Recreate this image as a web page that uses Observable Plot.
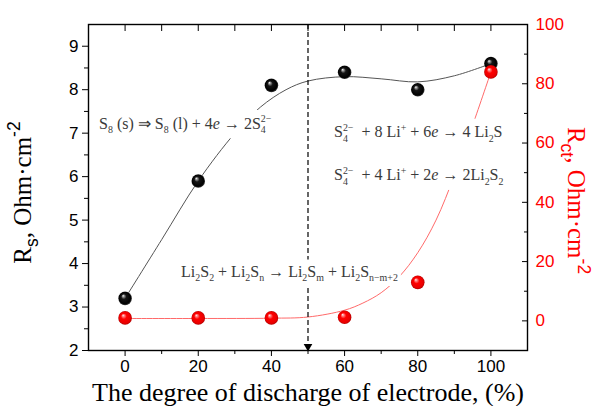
<!DOCTYPE html>
<html><head><meta charset="utf-8">
<script src="https://cdn.jsdelivr.net/npm/d3@7"></script>
<script src="https://cdn.jsdelivr.net/npm/@observablehq/plot@0.6"></script>
<style>body{margin:0;background:#fff} svg{display:block}</style>
</head><body><div id="chart"></div>
<script>
// ---- data ----
const degree = [0, 20, 40, 60, 80, 100];
const rsValues = [3.2, 5.9, 8.1, 8.4, 8.0, 8.6];
const rctValues = [1.0, 1.0, 1.0, 1.2, 13, 84];
// fitted curves
const rsFitX = [0, 10, 20, 30, 37, 44, 50, 60, 70, 80, 90, 100];
const rsFitY = [3.2, 4.55, 5.9, 7.0, 7.6, 8.0, 8.2, 8.3, 8.25, 8.18, 8.32, 8.6];
const rctFitX = [0, 20, 40, 50, 60, 65, 70, 75, 80, 85, 90, 95, 100];
const rctFitY = [0.8, 0.8, 0.9, 1.3, 3.6, 6, 9.5, 15, 23, 34, 49, 66, 84];
// axes
const xDomain = [-10, 110];
const rsDomain = [2, 9.5];
const rctDomain = [-10, 100];
const xTicks = [0, 20, 40, 60, 80, 100];
const xMinorTicks = [10, 30, 50, 70, 90];
const rsTicks = [2, 3, 4, 5, 6, 7, 8, 9];
const rsMinorTicks = [2.5, 3.5, 4.5, 5.5, 6.5, 7.5, 8.5];
const rctTicks = [0, 20, 40, 60, 80, 100];
const rctMinorTicks = [10, 30, 50, 70, 90];
// annotations (markup: _{sub} ^{sup} ~{italic})
const annoText = [
  "S_{8} (s) ⇒ S_{8} (l) + 4~{e} → 2S_{4}^{2−}",
  "S_{4}^{2−}  + 8 Li^{+} + 6~{e} → 4 Li_{2}S",
  "S_{4}^{2−}  + 4 Li^{+} + 2~{e} → 2Li_{2}S_{2}",
  "Li_{2}S_{2} + Li_{2}S_{n} → Li_{2}S_{m} + Li_{2}S_{n−m+2}"
];
const annoX = [-7.1, 57.1, 57.1, 15.3];
const annoY = [7.22, 7.02, 6.03, 3.82];
const annoGroup = [0, 1, 1, 2];
const markerX = [50];
const xLabel = "The degree of discharge of electrode, (%)";
const rsLabel = "R_{s}, Ohm·cm^{-2}";
const rctLabel = "R_{ct}, Ohm·cm^{-2}";

const toRs = v => rsDomain[0] + (v - rctDomain[0]) / (rctDomain[1] - rctDomain[0]) * (rsDomain[1] - rsDomain[0]);
const fromRs = y => rctDomain[0] + (y - rsDomain[0]) / (rsDomain[1] - rsDomain[0]) * (rctDomain[1] - rctDomain[0]);

const SERIF = "Liberation Serif, Times New Roman, serif";
const SANS = "Liberation Sans, Arial, sans-serif";
const RED = "#ff0000";

const svg = Plot.plot({
  width: 593, height: 406,
  marginLeft: 88, marginRight: 66, marginTop: 24, marginBottom: 56,
  style: {fontFamily: SANS, fontSize: "17px", color: "#000", background: "#fff", overflow: "visible"},
  x: {domain: xDomain},
  y: {domain: rsDomain},
  marks: [
    // axes
    Plot.axisX({ticks: xTicks, tickSize: 6, tickPadding: 3, label: null, tickFormat: d3.format("d")}),
    Plot.axisX({ticks: xMinorTicks, tickSize: 4, label: null, tickFormat: () => ""}),
    Plot.axisX({anchor: "top", ticks: xTicks.concat(xMinorTicks), tickSize: -6, label: null, tickFormat: () => ""}),
    Plot.axisY({ticks: rsTicks, tickSize: 6, tickPadding: 4, label: null, tickFormat: d3.format("d")}),
    Plot.axisY({ticks: rsMinorTicks, tickSize: 4, label: null, tickFormat: () => ""}),
    Plot.axisY({anchor: "right", ticks: rctTicks.map(toRs), tickSize: -6, label: null, tickFormat: () => ""}),
    Plot.axisY({anchor: "right", ticks: rctMinorTicks.map(toRs), tickSize: -4, label: null, tickFormat: () => ""}),
    Plot.axisY({anchor: "right", ticks: rctTicks.map(toRs), tickSize: 0, tickPadding: 8, label: null, color: RED,
                tickFormat: v => d3.format("d")(Math.round(fromRs(v)))}),
    // fitted curves
    Plot.line(rsFitX, {x: rsFitX, y: rsFitY, curve: "catmull-rom", stroke: "#555", strokeWidth: 1}),
    Plot.line(rctFitX, {x: rctFitX, y: rctFitY.map(toRs), curve: "catmull-rom", stroke: "#ff6a6a", strokeWidth: 1}),
    // dashed marker
    Plot.ruleX(markerX, {x: d => d, y1: rsDomain[1], y2: rsDomain[0], stroke: "#000", strokeWidth: 1.2, strokeDasharray: "5,3"}),
    Plot.dot(markerX, {x: d => d, y: rsDomain[0], symbol: "triangle", rotate: 180, r: 3.2, fill: "#000", dy: -4}),
    // annotations
    Plot.text(annoText, {x: annoX, y: annoY, text: d => d, textAnchor: "start", lineAnchor: "middle", fontFamily: SERIF, fontSize: 16,
                         fill: "#3a3a3a", className: "rich-anno", ariaLabel: "anno"}),
    // data points
    Plot.dot(degree, {x: degree, y: rsValues, r: 6.8, fill: "#000", className: "ball-black", ariaLabel: "ballblack"}),
    Plot.dot(degree, {x: degree, y: rctValues.map(toRs), r: 6.8, fill: RED, className: "ball-red", ariaLabel: "ballred"}),
    // labels
    Plot.text([xLabel], {frameAnchor: "bottom", lineAnchor: "middle", textAnchor: "middle", dy: 42.5, text: d => d,
                         fontFamily: SERIF, fontSize: 26, fill: "#000"}),
    Plot.text([rsLabel], {frameAnchor: "left", textAnchor: "middle", lineAnchor: "middle", dx: -66, dy: 5, rotate: -90,
                          text: d => d, fontFamily: SERIF, fontSize: 25, fill: "#000", className: "rich-label", ariaLabel: "richlabel"}),
    Plot.text([rctLabel], {frameAnchor: "right", textAnchor: "middle", lineAnchor: "middle", dx: 48, dy: 13, rotate: 90,
                           text: d => d, fontFamily: SERIF, fontSize: 25, fill: RED, className: "rich-label", ariaLabel: "richlabel"}),
    Plot.frame({stroke: "#000", strokeWidth: 1.4})
  ]
});
document.getElementById("chart").append(svg);

const NS = "http://www.w3.org/2000/svg";
function pick(cls, aria) {
  let els = svg.querySelectorAll("g." + cls);
  if (!els.length) els = svg.querySelectorAll(`g[aria-label="${aria}"]`);
  return Array.from(els);
}
function richify(el, subFont, subScale) {
  const src = el.textContent;
  const fs = parseFloat(getComputedStyle(el).fontSize);
  while (el.firstChild) el.removeChild(el.firstChild);
  let shift = 0, lastSub = null, m;
  const re = /([_^~])\{([^}]*)\}|([^_^~]+)/g;
  while ((m = re.exec(src))) {
    const kind = m[3] !== undefined ? "n" : m[1];
    const str = m[3] !== undefined ? m[3] : m[2];
    const ts = document.createElementNS(NS, "tspan");
    ts.textContent = str;
    let target = 0;
    if (kind === "_" || kind === "^") {
      target = kind === "_" ? 0.28 * fs : -0.42 * fs;
      ts.setAttribute("font-size", (subScale * fs).toFixed(2));
      if (subFont) ts.setAttribute("font-family", subFont);
    }
    if (kind === "~") ts.setAttribute("font-style", "italic");
    const delta = target - shift;
    if (Math.abs(delta) > 1e-6) ts.setAttribute("dy", delta.toFixed(2));
    if (kind === "^" && lastSub) ts.setAttribute("dx", (-lastSub.getComputedTextLength()).toFixed(2));
    el.appendChild(ts);
    lastSub = kind === "_" ? ts : null;
    shift = target;
  }
}
const annoGs = pick("rich-anno", "anno");
annoGs.forEach(g => g.querySelectorAll("text").forEach(t => richify(t, null, 0.62)));
pick("rich-label", "richlabel").forEach(g => g.querySelectorAll("text").forEach(t => richify(t, SANS, 0.7)));

// white boxes behind annotations
if (annoGs.length) {
  const annoG = annoGs[0];
  const sr = svg.getBoundingClientRect();
  const boxes = new Map();
  annoG.querySelectorAll("text").forEach((t, i) => {
    const r = t.getBoundingClientRect();
    const k = annoGroup[i];
    const b = boxes.get(k);
    const nb = {x0: r.left - sr.left, y0: r.top - sr.top, x1: r.right - sr.left, y1: r.bottom - sr.top};
    if (!b) boxes.set(k, nb);
    else boxes.set(k, {x0: Math.min(b.x0, nb.x0), y0: Math.min(b.y0, nb.y0), x1: Math.max(b.x1, nb.x1), y1: Math.max(b.y1, nb.y1)});
  });
  const bg = document.createElementNS(NS, "g");
  boxes.forEach(b => {
    const r = document.createElementNS(NS, "rect");
    r.setAttribute("x", b.x0 - 3); r.setAttribute("y", b.y0 - 3);
    r.setAttribute("width", b.x1 - b.x0 + 6); r.setAttribute("height", b.y1 - b.y0 + 6);
    r.setAttribute("fill", "#fff");
    bg.appendChild(r);
  });
  annoG.parentNode.insertBefore(bg, annoG);
}

// glossy ball gradients
const defs = document.createElementNS(NS, "defs");
defs.innerHTML = `
<radialGradient id="gBlack" cx="50%" cy="50%" r="50%" fx="35%" fy="30%">
  <stop offset="0%" stop-color="#ffffff"/><stop offset="14%" stop-color="#9a9a9a"/>
  <stop offset="38%" stop-color="#151515"/><stop offset="85%" stop-color="#000"/><stop offset="100%" stop-color="#3a3a3a"/>
</radialGradient>
<radialGradient id="gRed" cx="50%" cy="50%" r="50%" fx="35%" fy="30%">
  <stop offset="0%" stop-color="#fff2f2"/><stop offset="15%" stop-color="#ff8a8a"/>
  <stop offset="42%" stop-color="#ff0000"/><stop offset="85%" stop-color="#e80000"/><stop offset="100%" stop-color="#b00000"/>
</radialGradient>`;
svg.insertBefore(defs, svg.firstChild);
pick("ball-black", "ballblack").forEach(g => g.setAttribute("fill", "url(#gBlack)"));
pick("ball-red", "ballred").forEach(g => g.setAttribute("fill", "url(#gRed)"));
</script>
</body></html>
